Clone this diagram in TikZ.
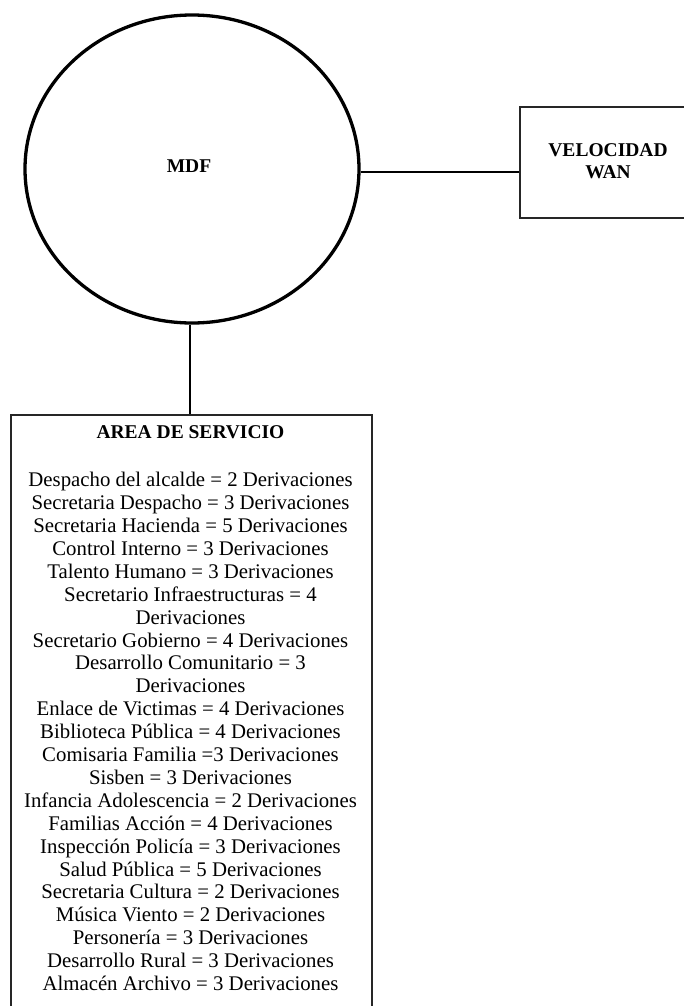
\documentclass[tikz,border=0pt]{standalone}
\usepackage{fontspec}
\setmainfont{Liberation Serif}
\usetikzlibrary{shapes.geometric}
\tikzset{
  hub/.style={draw, ellipse, line width=3.3pt, minimum width=334pt, minimum height=308pt, inner sep=0pt},
  panel/.style={draw=black!85, line width=1.9pt, rectangle, inner sep=0pt},
  link/.style={draw, line width=1.5pt},
  headtext/.style={font=\fontsize{19.5}{22}\selectfont\bfseries, align=center, inner sep=0pt},
  listtext/.style={font=\fontsize{20.8}{22.9}\selectfont, align=center, inner sep=0pt}
}
\begin{document}
\begin{tikzpicture}[x=1pt, y=-1pt]
  \useasboundingbox (0,0) rectangle (684,1006);
  \clip (0,0) rectangle (684,1006);

  % main distribution frame
  \node[hub] (mdf) at (192,169) {};
  \node[headtext] (mdflabel) at (189,166) {MDF};

  % WAN box (runs past the right edge)
  \node[panel, minimum width=200pt, minimum height=111pt] (wan) at (620,162.5) {};
  \node[headtext] (wanlabel) at (608,161) {VELOCIDAD\\WAN};

  % service area box (runs past the bottom edge)
  \node[panel, minimum width=361pt, minimum height=640pt, anchor=north west] (area) at (10,414) {};
  \node[headtext] (areatitle) at (190.5,432) {AREA DE SERVICIO};
  \node[listtext] (arealist) at (190.5,731.5) {%
    Despacho del alcalde = 2 Derivaciones\\
    Secretaria Despacho = 3 Derivaciones\\
    Secretaria Hacienda = 5 Derivaciones\\
    Control Interno = 3 Derivaciones\\
    Talento Humano = 3 Derivaciones\\
    Secretario Infraestructuras = 4\\
    Derivaciones\\
    Secretario Gobierno = 4 Derivaciones\\
    Desarrollo Comunitario = 3\\
    Derivaciones\\
    Enlace de Victimas = 4 Derivaciones\\
    Biblioteca Pública = 4 Derivaciones\\
    Comisaria Familia =3 Derivaciones\\
    Sisben = 3 Derivaciones\\
    Infancia Adolescencia = 2 Derivaciones\\
    Familias Acción = 4 Derivaciones\\
    Inspección Policía = 3 Derivaciones\\
    Salud Pública = 5 Derivaciones\\
    Secretaria Cultura = 2 Derivaciones\\
    Música Viento = 2 Derivaciones\\
    Personería = 3 Derivaciones\\
    Desarrollo Rural = 3 Derivaciones\\
    Almacén Archivo = 3 Derivaciones};

  % connectors
  \draw[link] ([yshift=-3pt]mdf.east) -- ([yshift=-3pt]mdf.east -| wan.west);
  \draw[link] ([xshift=-2pt]mdf.south) -- ([xshift=-2pt]mdf.south |- area.north);
\end{tikzpicture}
\end{document}
